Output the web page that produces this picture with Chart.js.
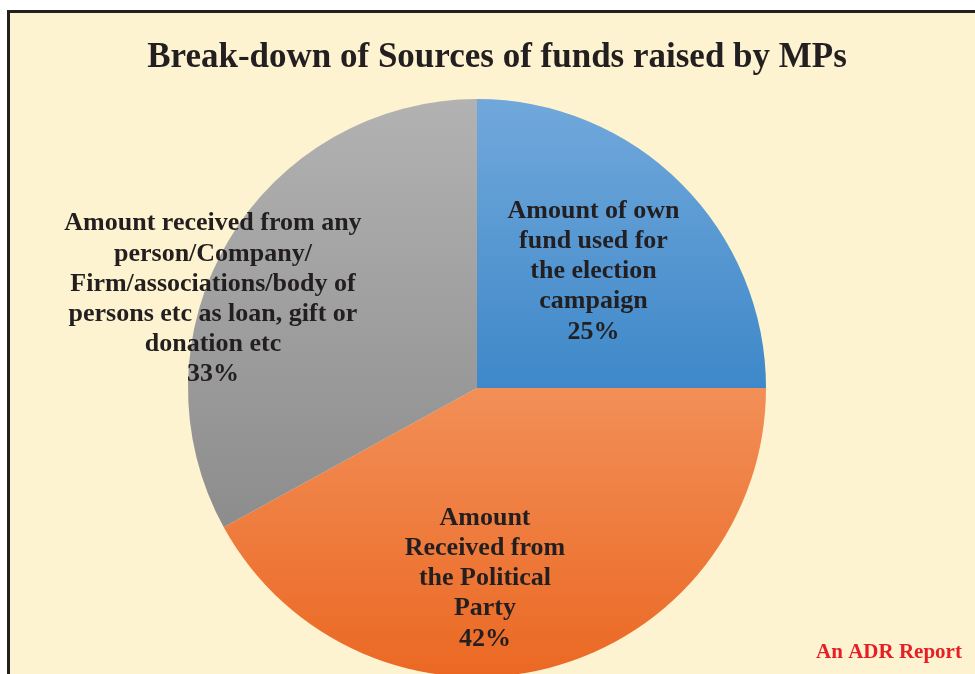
<!DOCTYPE html>
<html lang="en">
<head>
    <meta charset="UTF-8">
    <title>Break-down of Sources of funds raised by MPs</title>
    <script src="https://cdn.jsdelivr.net/npm/chart.js"></script>
    <style>
        html, body { margin: 0; padding: 0; background: #fff; overflow: hidden; }
        .frame {
            position: absolute; left: 7px; top: 10px;
            width: 1000px; height: 700px;
            border: 3px solid #231f20;
            background: #fef3d0;
        }
        .wrap { position: absolute; left: 0; top: 0; width: 975px; height: 720px; }
    </style>
</head>
<body>
    <div class="frame"></div>
    <div class="wrap"><canvas id="fundsChart"></canvas></div>
    <script>
        const title = 'Break-down of Sources of funds raised by MPs';
        const footer = 'An ADR Report';
        const categories = [
            ['Amount of own', 'fund used for', 'the election', 'campaign'],
            ['Amount', 'Received from', 'the Political', 'Party'],
            ['Amount received from any', 'person/Company/', 'Firm/associations/body of', 'persons etc as loan, gift or', 'donation etc']
        ];
        const shares = [25, 42, 33];

        // gradient stops per slice, relative to the pie's bounding box
        const sliceStops = [
            [[0, '#71a8db'], [0.5, '#3e88c9']],
            [[0.5, '#f28f57'], [1, '#eb6823']],
            [[0, '#b2b2b2'], [0.75, '#8c8c8c']]
        ];
        // where each label block sits: angle from top (deg, clockwise) and fraction of radius
        const labelSpots = [[45, 0.57], [177.6, 0.66], [288.6, 0.964]];

        const serif = '"Liberation Serif", "Times New Roman", serif';

        function sliceFill(ctx) {
            const area = ctx.chart.chartArea;
            const stops = sliceStops[ctx.dataIndex];
            if (!area) return stops[0][1];
            const g = ctx.chart.ctx.createLinearGradient(0, area.top, 0, area.bottom);
            stops.forEach(s => g.addColorStop(s[0], s[1]));
            return g;
        }

        const textPlugin = {
            id: 'texts',
            afterDraw(chart) {
                const c = chart.ctx;
                c.save();
                c.textAlign = 'center';
                c.textBaseline = 'middle';

                c.fillStyle = '#231f20';
                c.font = 'bold 35px ' + serif;
                c.fillText(title, 497, 58);

                c.fillStyle = '#e61e25';
                c.font = 'bold 21px ' + serif;
                c.fillText(footer, 889, 653);

                const total = shares.reduce((a, b) => a + b, 0);
                const arcs = chart.getDatasetMeta(0).data;
                c.fillStyle = '#231f20';
                c.font = 'bold 26px ' + serif;
                arcs.forEach((arc, i) => {
                    const p = arc.getProps(['x', 'y', 'outerRadius'], true);
                    const a = labelSpots[i][0] * Math.PI / 180;
                    const r = p.outerRadius * labelSpots[i][1];
                    const cx = p.x + r * Math.sin(a);
                    const cy = p.y - r * Math.cos(a);
                    const lines = categories[i].concat(Math.round(shares[i] / total * 100) + '%');
                    const lh = 30.2;
                    const y0 = cy - (lines.length - 1) * lh / 2;
                    lines.forEach((t, k) => c.fillText(t, cx, y0 + k * lh));
                });
                c.restore();
            }
        };

        new Chart(document.getElementById('fundsChart'), {
            type: 'pie',
            data: {
                labels: categories.map(l => l.join(' ')),
                datasets: [{
                    data: shares,
                    backgroundColor: sliceFill,
                    borderWidth: 0
                }]
            },
            options: {
                responsive: true,
                maintainAspectRatio: false,
                animation: false,
                layout: { padding: { top: 99, bottom: 43, left: 188, right: 209 } },
                plugins: {
                    legend: { display: false },
                    tooltip: { enabled: false }
                }
            },
            plugins: [textPlugin]
        });
    </script>
</body>
</html>
